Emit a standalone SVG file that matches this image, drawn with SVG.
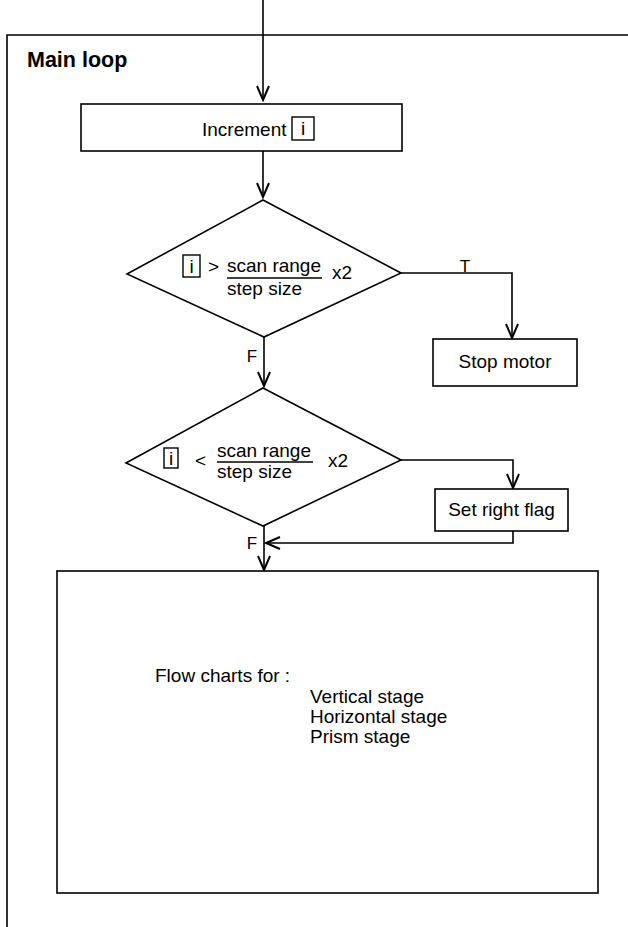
<svg xmlns="http://www.w3.org/2000/svg" width="628" height="927" viewBox="0 0 628 927">
<defs>
<style>
.ln{fill:none;stroke:#000;stroke-width:1.6}
.bx{fill:#fff;stroke:#000;stroke-width:1.6}
.ib{fill:none;stroke:#000;stroke-width:1.4}
.t{font-family:"Liberation Sans",Arial,sans-serif;font-size:19px;fill:#000}
.m{text-anchor:middle}
.lbl{font-family:"Liberation Sans",Arial,sans-serif;font-size:17px;fill:#000;text-anchor:middle}
</style>
<marker id="arr" viewBox="-16 -8 18 16" refX="0" refY="0" markerWidth="18" markerHeight="16" markerUnits="userSpaceOnUse" orient="auto">
<path d="M-14,-6 L0,0 L-14,6" fill="none" stroke="#000" stroke-width="2"/>
</marker>
</defs>
<rect width="628" height="927" fill="#fff"/>
<g id="frame">
<path class="ln" d="M628,35 L7,35 L7,927"/>
<text class="t" x="27" y="67" style="font-weight:bold;font-size:21.5px">Main loop</text>
</g>
<g id="connectors">
<path class="ln" d="M263,0 L263,100" marker-end="url(#arr)"/>
<path class="ln" d="M263,151 L263,197" marker-end="url(#arr)"/>
<path class="ln" d="M401,273 L512,273 L512,338" marker-end="url(#arr)"/>
<path class="ln" d="M264,337 L264,386" marker-end="url(#arr)"/>
<path class="ln" d="M401,460 L513,460 L513,488" marker-end="url(#arr)"/>
<path class="ln" d="M513,531 L513,543 L266,543" marker-end="url(#arr)"/>
<path class="ln" d="M264,526 L264,570" marker-end="url(#arr)"/>
<text class="lbl" x="465" y="272">T</text>
<text class="lbl" x="252" y="362">F</text>
<text class="lbl" x="252" y="549">F</text>
</g>
<g id="increment">
<rect class="bx" x="81" y="104" width="321" height="47"/>
<text class="t" x="202" y="136">Increment</text>
<rect class="ib" x="292" y="117" width="22" height="23"/>
<text class="t m" x="303" y="135">i</text>
</g>
<g id="decision1">
<path class="bx" d="M263,200 L401,273 L264,337 L127,274 Z"/>
<rect class="ib" x="183" y="255" width="17" height="22"/>
<text class="t m" x="191.5" y="273">i</text>
<text class="t" x="208" y="273">&gt;</text>
<text class="t" x="227" y="272">scan range</text>
<line class="ln" x1="227" y1="278" x2="322" y2="278"/>
<text class="t" x="227" y="295">step size</text>
<text class="t" x="332" y="279">x2</text>
</g>
<g id="stopmotor">
<rect class="bx" x="433" y="339" width="144" height="47"/>
<text class="t m" x="505" y="368">Stop motor</text>
</g>
<g id="decision2">
<path class="bx" d="M263,388 L401,460 L263,526 L126,463 Z"/>
<rect class="ib" x="164" y="448" width="14" height="20"/>
<text class="t m" x="171" y="465">i</text>
<text class="t" x="195" y="467">&lt;</text>
<text class="t" x="217" y="457">scan range</text>
<line class="ln" x1="217" y1="462" x2="313" y2="462"/>
<text class="t" x="217" y="478">step size</text>
<text class="t" x="328" y="467">x2</text>
</g>
<g id="setrightflag">
<rect class="bx" x="435" y="489" width="133" height="42"/>
<text class="t m" x="501.5" y="516">Set right flag</text>
</g>
<g id="flowcharts">
<rect class="bx" x="57" y="571" width="541" height="322"/>
<text class="t" x="155" y="682">Flow charts for :</text>
<text class="t" x="310" y="703">Vertical stage</text>
<text class="t" x="310" y="723">Horizontal stage</text>
<text class="t" x="310" y="743">Prism stage</text>
</g>
</svg>
